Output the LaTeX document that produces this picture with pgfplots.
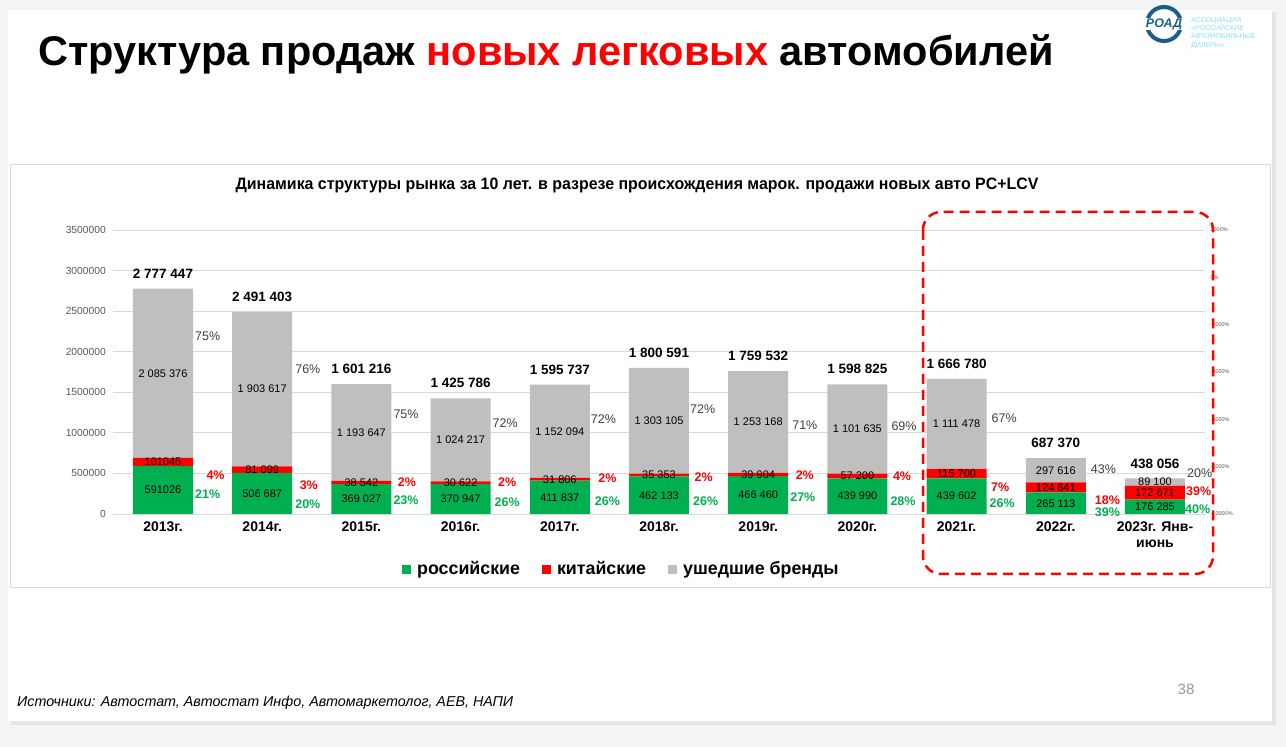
\documentclass[border=0pt]{standalone}
\usepackage{fontspec}
\setmainfont{Liberation Sans}
\usepackage{graphicx}
\usepackage{pgfplots}
\usepackage{pgfplotstable}
\pgfplotsset{compat=1.18}
\definecolor{cgreen}{HTML}{00B050}
\definecolor{cred}{HTML}{FF0000}
\definecolor{cgray}{HTML}{BFBFBF}
\definecolor{cgrid}{HTML}{D9D9D9}
\definecolor{ctick}{HTML}{595959}
\definecolor{cpct}{HTML}{404040}
\definecolor{cbg}{HTML}{F3F4F6}
\definecolor{cshadow}{HTML}{E4E5E8}
\definecolor{clogo}{HTML}{1B5E8A}
\definecolor{clogotext}{HTML}{8EE0F0}
\definecolor{cpage}{HTML}{8AA0A0}

\pgfplotstableread[col sep=comma]{
x,rus,chn,gone,total,rlab,clab,glab,tlab,prus,pchn,pgone,xpg,ypg,xpr,ypr,xpn,ypn
0,591026,101045,2085376,2777447,591026,101045,2 085 376,2 777 447,21,4,75,0.45,2193700,0.53,480600,0.45,246500
1,506687,81099,1903617,2491403,506 687,81 099,1 903 617,2 491 403,20,3,76,1.46,1787000,1.47,357400,1.46,123200
2,369027,38542,1193647,1601216,369 027,38 542,1 193 647,1 601 216,23,2,75,2.45,1232400,2.46,394400,2.45,172500
3,370947,30622,1024217,1425786,370 947,30 622,1 024 217,1 425 786,26,2,72,3.45,1121500,3.47,394400,3.47,147900
4,411837,31806,1152094,1595737,411 837,31 806,1 152 094,1 595 737,26,2,72,4.44,1170800,4.48,443700,4.48,160200
5,462133,35353,1303105,1800591,462 133,35 353,1 303 105,1 800 591,26,2,72,5.44,1294000,5.45,456000,5.47,160200
6,466460,39904,1253168,1759532,466 460,39 904,1 253 168,1 759 532,27,2,71,6.47,1096800,6.47,480600,6.45,209500
7,439990,57200,1101635,1598825,439 990,57 200,1 101 635,1 598 825,28,4,69,7.47,1084500,7.45,468300,7.46,160200
8,439602,115700,1111478,1666780,439 602,115 700,1 111 478,1 666 780,26,7,67,8.48,1183100,8.44,332700,8.46,135600
9,265113,124641,297616,687370,265 113,124 641,297 616,687 370,39,18,43,9.48,554600,9.52,172500,9.52,24600
10,176285,172671,89100,438056,176 285,172 671,89 100,438 056,40,39,20,10.45,505300,10.44,283500,10.43,61600
}\datatable

\pgfplotsset{
  geom/.style={
    at={(113.4pt,233pt)}, anchor=south west,
    scale only axis, width=1091.2pt, height=284pt,
    xmin=-0.5, xmax=10.5, ymin=0, ymax=3500000,
    enlargelimits=false,
  },
}

\begin{document}
\begin{tikzpicture}[x=1pt,y=1pt]
\useasboundingbox (0,0) rectangle (1286,747);
\fill[cbg] (0,0) rectangle (1286,747);
\fill[cshadow] (11,22) rectangle (1276,735);
\fill[white] (8,26) rectangle (1272,737);
% chart frame
\draw[cgrid, line width=1pt] (10,159) rectangle (1270,582);

% title
\node[anchor=base west, inner sep=0pt, font=\fontsize{41.5}{44}\selectfont\bfseries] at (38,681)
  {Структура продаж \textcolor{cred}{новых легковых} автомобилей};

% logo
\draw[clogo, line width=4pt] (1164,723) circle (17);
\node[fill=white, inner sep=0.8pt, text=clogo, font=\fontsize{12.5}{13}\selectfont\bfseries\itshape] at (1164,723) {РОАД};
\node[anchor=north west, align=left, inner sep=0pt, text=clogotext, font=\fontsize{7}{8.4}\selectfont] at (1191,730)
  {АССОЦИАЦИЯ\\«РОССИЙСКИЕ\\АВТОМОБИЛЬНЫЕ\\ДИЛЕРЫ»};

% chart title
\node[anchor=base, inner sep=0pt, font=\fontsize{16.5}{18}\selectfont\bfseries] at (637,557)
  {\scalebox{0.965}[1]{Динамика структуры рынка за 10 лет. в разрезе происхождения марок. продажи новых авто PC+LCV}};

% main bar axis
\begin{axis}[geom,
  ybar stacked, bar width=60pt,
  axis line style={draw=none},
  major tick length=0pt,
  ymajorgrids, grid style={cgrid, line width=0.8pt},
  ytick={0,500000,...,3500000},
  scaled y ticks=false,
  yticklabel style={font=\fontsize{10.3}{12}\selectfont, text=ctick, xshift=-4pt,
    /pgf/number format/.cd, fixed, 1000 sep={}, assume math mode=true},
  xtick={0,...,10},
  xticklabels={2013г.,2014г.,2015г.,2016г.,2017г.,2018г.,2019г.,2020г.,2021г.,2022г.,{2023г. Янв-\\июнь}},
  xticklabel style={font=\fontsize{14}{16}\selectfont\bfseries, align=center, yshift=-4.5pt},
  legend style={at={(axis description cs:0.4656,-0.1937)}, anchor=center, draw=none, fill=none,
    font=\fontsize{17.8}{19}\selectfont\bfseries, legend columns=-1,
    /tikz/every even column/.append style={column sep=20pt}},
  legend image code/.code={\fill[#1] (0pt,-4.5pt) rectangle (9pt,4.5pt); \path (13pt,0pt);},
]
\addplot[fill=cgreen, draw=none] table[x=x, y=rus] {\datatable};
\addplot[fill=cred, draw=none] table[x=x, y=chn] {\datatable};
\addplot[fill=cgray, draw=none] table[x=x, y=gone] {\datatable};
\legend{российские, китайские, ушедшие бренды}
\end{axis}

% right axis
\begin{axis}[geom, ymin=-10000, ymax=2000,
  axis x line=none, axis y line*=right,
  axis line style={draw=none}, major tick length=0pt,
  ytick={-10000,-8000,...,2000}, scaled y ticks=false,
  yticklabel={\pgfmathprintnumber[fixed,1000 sep={},assume math mode=true]{\tick}\%},
  yticklabel style={font=\fontsize{5.5}{6}\selectfont, text=ctick, xshift=2.5pt},
]
\addplot[draw=none] coordinates {(0,0)};
\end{axis}

% labels axis
\begin{axis}[geom, hide axis, clip=false,
  nodes near coords, point meta=explicit symbolic,
]
% segment values
\addplot[draw=none, nodes near coords style={anchor=center, inner sep=0pt, font=\fontsize{11}{12}\selectfont, text=black}]
  table[x=x, y expr=\thisrow{rus}/2, meta=rlab] {\datatable};
\addplot[draw=none, nodes near coords style={anchor=center, inner sep=0pt, font=\fontsize{11}{12}\selectfont, text=black}]
  table[x=x, y expr=\thisrow{rus}+\thisrow{chn}/2, meta=clab] {\datatable};
\addplot[draw=none, nodes near coords style={anchor=center, inner sep=0pt, font=\fontsize{11}{12}\selectfont, text=black}]
  table[x=x, y expr=\thisrow{rus}+\thisrow{chn}+\thisrow{gone}/2, meta=glab] {\datatable};
% totals
\addplot[draw=none, nodes near coords style={anchor=south, inner sep=0pt, yshift=10pt, font=\fontsize{13.5}{15}\selectfont\bfseries, text=black}]
  table[x=x, y=total, meta=tlab] {\datatable};
% percentages
\addplot[draw=none, nodes near coords={\pgfplotspointmeta\%}, nodes near coords style={anchor=center, inner sep=0pt, font=\fontsize{12.5}{14}\selectfont, text=cpct}]
  table[x=xpg, y=ypg, meta=pgone] {\datatable};
\addplot[draw=none, nodes near coords={\pgfplotspointmeta\%}, nodes near coords style={anchor=center, inner sep=0pt, font=\fontsize{12.5}{14}\selectfont\bfseries, text=cred}]
  table[x=xpr, y=ypr, meta=pchn] {\datatable};
\addplot[draw=none, nodes near coords={\pgfplotspointmeta\%}, nodes near coords style={anchor=center, inner sep=0pt, font=\fontsize{12.5}{14}\selectfont\bfseries, text=cgreen}]
  table[x=xpn, y=ypn, meta=prus] {\datatable};
\end{axis}

% highlight frame
\draw[cred, line width=2.5pt, dash pattern=on 10pt off 6pt, rounded corners=18pt] (923,535) rectangle (1213,173);

% source and page number
\node[anchor=base west, inner sep=0pt, font=\fontsize{14.3}{16}\selectfont\itshape] at (17,40)
  {Источники: Автостат, Автостат Инфо, Автомаркетолог, АЕВ, НАПИ};
\node[text=cpage, font=\fontsize{15}{17}\selectfont] at (1186,58) {38};
\end{tikzpicture}
\end{document}
